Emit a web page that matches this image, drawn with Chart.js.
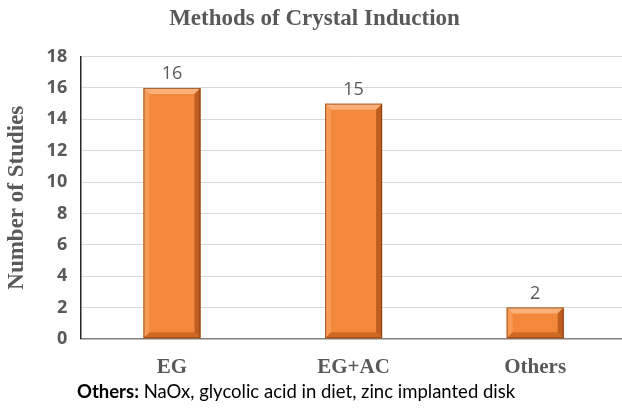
<!DOCTYPE html>
<html>
<head>
<meta charset="utf-8">
<script src="https://cdn.jsdelivr.net/npm/chart.js@4"></script>
<style>
  html, body { margin: 0; padding: 0; background: #fff; overflow: hidden; }
  #wrap { width: 626px; height: 408px; }
</style>
</head>
<body>
<div id="wrap"><canvas id="myChart" width="626" height="408"></canvas></div>
<script>
var categories = ["EG", "EG+AC", "Others"];
var studies = [16, 15, 2];
var yTicks = [0, 2, 4, 6, 8, 10, 12, 14, 16, 18];
var footBold = "Others:";
var footText = " NaOx, glycolic acid in diet, zinc implanted disk";

var grey = '#595959';

// bevel look on each bar, drawn from the bar element's own geometry
var bevelBars = {
  id: 'bevelBars',
  afterDatasetsDraw: function(chart) {
    var c = chart.ctx;
    var meta = chart.getDatasetMeta(0);
    meta.data.forEach(function(bar, i) {
      var p = bar.getProps(['x', 'y', 'base', 'width'], true);
      var l = p.x - p.width / 2, r = p.x + p.width / 2, t = p.y, b = p.base;
      var d = Math.min(6, (b - t) / 3);
      c.save();
      // top
      c.fillStyle = '#fbb07a';
      c.beginPath(); c.moveTo(l, t); c.lineTo(r, t); c.lineTo(r - d, t + d); c.lineTo(l + d, t + d); c.closePath(); c.fill();
      // left
      c.fillStyle = '#f79a55';
      c.beginPath(); c.moveTo(l, t); c.lineTo(l + d, t + d); c.lineTo(l + d, b - d); c.lineTo(l, b); c.closePath(); c.fill();
      // right
      c.fillStyle = '#bf5c1f';
      c.beginPath(); c.moveTo(r, t); c.lineTo(r, b); c.lineTo(r - d, b - d); c.lineTo(r - d, t + d); c.closePath(); c.fill();
      // bottom
      c.fillStyle = '#cf6a25';
      c.beginPath(); c.moveTo(l, b); c.lineTo(r, b); c.lineTo(r - d, b - d); c.lineTo(l + d, b - d); c.closePath(); c.fill();
      c.strokeStyle = 'rgba(90,40,10,0.55)';
      c.lineWidth = 1;
      c.strokeRect(l + 0.5, t + 0.5, p.width - 1, b - t - 1);
      // value label
      c.fillStyle = grey;
      c.font = '18px "Open Sans"';
      c.textAlign = 'center';
      c.textBaseline = 'bottom';
      c.fillText(String(studies[i]), p.x, t - 5);
      c.restore();
    });
  },
  afterDraw: function(chart) {
    var c = chart.ctx;
    c.save();
    c.fillStyle = '#000';
    c.textBaseline = 'alphabetic';
    c.textAlign = 'left';
    var x = 77, y = 398;
    c.font = 'bold 18.5px Lato';
    c.fillText(footBold, x, y);
    x += c.measureText(footBold).width;
    c.font = '18.5px Lato';
    c.fillText(footText, x, y);
    c.restore();
  }
};

var ctx = document.getElementById('myChart').getContext('2d');
var chart = new Chart(ctx, {
  type: 'bar',
  data: {
    labels: categories,
    datasets: [{
      data: studies,
      backgroundColor: '#f4883a',
      borderWidth: 0,
      barPercentage: 0.314,
      categoryPercentage: 1
    }]
  },
  options: {
    responsive: false,
    animation: false,
    layout: { padding: { left: 3, right: 0, top: 0, bottom: 20 } },
    plugins: {
      legend: { display: false },
      tooltip: { enabled: false },
      title: {
        display: true,
        text: 'Methods of Crystal Induction',
        color: grey,
        font: { family: '"Liberation Serif"', size: 23, weight: 'bold' },
        padding: { top: 5, bottom: 24 }
      }
    },
    scales: {
      x: {
        grid: { display: false },
        border: { color: '#7f7f7f', width: 1.5 },
        ticks: {
          color: grey,
          font: { family: '"Liberation Serif"', size: 21, weight: 'bold' },
          padding: 8
        }
      },
      y: {
        min: 0,
        max: 18,
        afterBuildTicks: function(scale) {
          scale.ticks = yTicks.map(function(v) { return { value: v }; });
        },
        grid: { color: '#d9d9d9', drawTicks: false },
        border: { color: '#262626', width: 1.5 },
        ticks: {
          color: grey,
          font: { family: '"Open Sans"', size: 18, weight: 'bold' },
          padding: 14
        },
        title: {
          display: true,
          text: 'Number of Studies',
          color: grey,
          font: { family: '"Liberation Serif"', size: 23, weight: 'bold' },
          padding: { top: 0, bottom: 2 }
        }
      }
    }
  },
  plugins: [bevelBars]
});
</script>
</body>
</html>
